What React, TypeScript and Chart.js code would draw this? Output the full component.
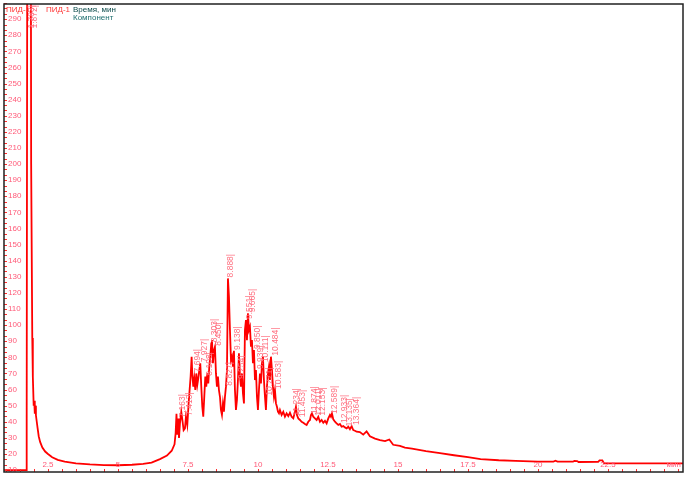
import React, { useEffect, useRef } from "react";
import { Chart, registerables } from "chart.js";

Chart.register(...registerables);

// retention time, min
const times = [
  0.93, 1.5, 1.72, 1.73, 1.75, 1.76, 1.89, 1.9, 1.93, 1.94, 1.96, 1.99, 2.01, 2.03, 2.05, 2.07, 2.1, 2.13, 2.17, 2.22,
  2.3, 2.4, 2.5, 2.65, 2.85, 3.1, 3.5, 4.0, 4.5, 5.0, 5.5, 5.9, 6.2, 6.5, 6.75, 6.92, 7.02, 7.06, 7.09, 7.12,
  7.15, 7.18, 7.214, 7.262, 7.309, 7.345, 7.393, 7.428, 7.476, 7.524, 7.559, 7.595, 7.631, 7.654, 7.69, 7.726, 7.762, 7.797, 7.833, 7.869,
  7.904, 7.94, 7.976, 8.012, 8.047, 8.083, 8.119, 8.154, 8.19, 8.226, 8.262, 8.297, 8.333, 8.357, 8.393, 8.428, 8.464, 8.5, 8.535, 8.571,
  8.607, 8.643, 8.678, 8.714, 8.75, 8.785, 8.821, 8.857, 8.893, 8.928, 8.964, 9.0, 9.036, 9.071, 9.107, 9.143, 9.178, 9.214, 9.25, 9.285,
  9.321, 9.357, 9.393, 9.428, 9.464, 9.5, 9.535, 9.571, 9.607, 9.643, 9.678, 9.714, 9.75, 9.785, 9.821, 9.857, 9.893, 9.928, 9.964, 10.0,
  10.036, 10.071, 10.107, 10.143, 10.178, 10.214, 10.25, 10.285, 10.321, 10.357, 10.393, 10.428, 10.464, 10.5, 10.535, 10.571, 10.607, 10.643, 10.678, 10.714,
  10.75, 10.785, 10.845, 10.905, 10.964, 11.024, 11.083, 11.143, 11.202, 11.262, 11.321, 11.357, 11.393, 11.44, 11.5, 11.559, 11.619, 11.678, 11.738, 11.797,
  11.857, 11.893, 11.928, 11.976, 12.035, 12.095, 12.154, 12.214, 12.274, 12.333, 12.393, 12.452, 12.512, 12.571, 12.607, 12.643, 12.69, 12.75, 12.809, 12.869,
  12.928, 12.988, 13.047, 13.107, 13.166, 13.226, 13.285, 13.345, 13.404, 13.464, 13.523, 13.64, 13.76, 13.88, 14.0, 14.18, 14.36, 14.54, 14.69, 14.83,
  15.07, 15.25, 15.5, 16.0, 16.5, 17.0, 17.5, 17.95, 18.6, 19.2, 20.0, 20.55, 20.62, 20.7, 21.25, 21.3, 21.4, 21.45, 22.15, 22.2,
  22.3, 22.36, 25.18,
];

// detector signal (ПИД-1)
const signal = [
  10, 10, 10, 40, 42, 330, 330, 200, 200, 92, 68, 50, 53, 45, 50, 44, 40, 36, 31, 27.5,
  24, 21.5, 20, 18, 16.3, 15.2, 14.2, 13.5, 13.1, 13, 13.3, 13.8, 14.6, 16.8, 19, 22, 26, 33, 45, 32,
  42, 30, 39, 46.2, 40, 34.8, 35.9, 43.1, 38, 51.4, 59.7, 68, 80.4, 70, 61.8, 66.9, 59.7, 70, 62.8, 66.9,
  72.1, 76.3, 61.8, 49.3, 43.1, 55.5, 68, 61.8, 70, 63.8, 74.2, 80.4, 88.7, 90.7, 76.3, 84.5, 86.6, 70, 61.8, 68,
  59.7, 55.5, 47.3, 44.2, 51.4, 46.2, 55.5, 61.8, 72.1, 129, 117.7, 97, 78.3, 80.4, 74.2, 84, 59.7, 47.3, 53.5, 65.9,
  82.5, 68, 61.8, 70, 57.6, 51.4, 97, 103.2, 90.7, 107.3, 97, 99, 86.6, 90.7, 76.3, 84.5, 65.9, 72.1, 55.5, 47.3,
  59.7, 70, 63.8, 76.3, 80.4, 65.9, 55.5, 47.3, 61.8, 70, 74.2, 65.9, 80.4, 72.1, 61.8, 55.5, 59.7, 51.4, 49.3, 46.2,
  45.2, 47.3, 44.2, 46.2, 43.1, 45.2, 43.5, 45.6, 43.1, 42.1, 46.2, 49.3, 44.2, 42.1, 41.1, 40, 39.4, 38.6, 38, 40,
  41.1, 44.2, 45.2, 43.1, 42.1, 41.1, 43.1, 40, 41.1, 39.4, 40.6, 39, 42.1, 44.2, 43.1, 45.2, 41.5, 40, 39, 38,
  38.6, 36.9, 37.3, 36.5, 35.9, 36.9, 35.3, 37.3, 34.8, 34.4, 33.8, 33.6, 32, 34, 31, 29.5, 28.6, 28, 29, 25.7,
  25, 24, 23.3, 21.8, 20.5, 19.2, 18, 16.8, 16.1, 15.7, 15.3, 15.2, 15.8, 15.2, 15.2, 15.7, 15.6, 15, 15.1, 16,
  16, 14.1, 14.1,
];

const peakLabels = [
  "1.783", "1.872", "7.163", "7.413", "7.694", "7.927", "8.108", "8.303", "8.450", "8.827", "8.888", "9.138", "9.254",
  "9.551", "9.665", "9.850", "9.939", "10.111", "10.271", "10.484", "10.583", "11.234", "11.453", "11.874", "12.011",
  "12.153", "12.589", "12.933", "13.135", "13.364",
];

const yLabels = [10, 20, 30, 40, 50, 60, 70, 80, 90, 100, 110, 120, 130, 140, 150, 160, 170, 180, 190, 200, 210, 220, 230, 240, 250, 260, 270, 280, 290];
const xLabels = [2.5, 5, 7.5, 10, 12.5, 15, 17.5, 20, 22.5];

const X_MIN = 0.93;
const X_MAX = 25.18;
const Y_MIN = 8.8;
const Y_MAX = 299.4;

const overlay = {
  id: "overlay",
  afterDatasetsDraw(chart: any) {
    const { ctx, chartArea: a, scales } = chart;
    const xs = scales.x;
    const ys = scales.y;
    ctx.save();
    // y ticks (three steps per labelled interval)
    ctx.strokeStyle = "#ff2a2a";
    ctx.lineWidth = 1;
    for (let k = 0; k <= 87; k++) {
      const v = 10 + (k * 10) / 3;
      const y = Math.round(ys.getPixelForValue(v)) + 0.5;
      ctx.beginPath();
      ctx.moveTo(a.left, y);
      ctx.lineTo(a.left + 3, y);
      ctx.stroke();
    }
    // x ticks
    for (let t = 1; t <= 25; t += 0.5) {
      const x = Math.round(xs.getPixelForValue(t)) + 0.5;
      ctx.beginPath();
      ctx.moveTo(x, a.bottom);
      ctx.lineTo(x, a.bottom - 3);
      ctx.stroke();
    }
    ctx.font = "8px 'Liberation Sans', Arial, sans-serif";
    ctx.fillStyle = "#ff5a78";
    ctx.textAlign = "left";
    ctx.textBaseline = "middle";
    for (const v of yLabels) {
      ctx.fillText(String(v), a.left + 4, ys.getPixelForValue(v));
    }
    ctx.textAlign = "center";
    ctx.textBaseline = "alphabetic";
    for (const t of xLabels) {
      ctx.fillText(String(t), xs.getPixelForValue(t), a.bottom - 5);
    }
    ctx.textAlign = "right";
    ctx.fillText("мин", a.right - 2, a.bottom - 5);

    // peak labels
    ctx.fillStyle = "#ff7080";
    ctx.font = "8.5px 'Liberation Sans', Arial, sans-serif";
    for (const lab of peakLabels) {
      const t = parseFloat(lab);
      let maxV = -Infinity;
      for (let i = 0; i < times.length; i++) {
        if (Math.abs(times[i] - t) <= 0.045 && signal[i] > maxV) maxV = signal[i];
      }
      const text = lab + "|";
      const w = ctx.measureText(text).width;
      const x = xs.getPixelForValue(t);
      let y = ys.getPixelForValue(maxV) - 1;
      if (y - w < a.top + 1) y = a.top + 1 + w;
      ctx.save();
      ctx.translate(x, y);
      ctx.rotate(-Math.PI / 2);
      ctx.textAlign = "left";
      ctx.textBaseline = "top";
      ctx.fillText(text, 0, 0);
      ctx.restore();
    }

    // header
    ctx.textAlign = "left";
    ctx.textBaseline = "alphabetic";
    ctx.font = "8px 'Liberation Sans', Arial, sans-serif";
    ctx.fillStyle = "#ff3030";
    ctx.fillText("ПИД-1,", a.left + 2, a.top + 8);
    ctx.fillText("ПИД-1", a.left + 42, a.top + 8);
    ctx.fillStyle = "#0a4a4a";
    ctx.fillText("Время, мин", a.left + 69, a.top + 8);
    ctx.fillStyle = "#207070";
    ctx.fillText("Компонент", a.left + 69, a.top + 16);

    // frame
    ctx.strokeStyle = "#202020";
    ctx.lineWidth = 1.5;
    ctx.strokeRect(a.left, a.top, a.right - a.left, a.bottom - a.top);
    ctx.restore();
  },
};

export default function App() {
  const ref = useRef<HTMLCanvasElement | null>(null);
  useEffect(() => {
    if (!ref.current) return;
    const chart = new Chart(ref.current, {
      type: "line",
      data: {
        datasets: [
          {
            data: times.map((t, i) => ({ x: t, y: signal[i] })),
            borderColor: "#ff0000",
            borderWidth: 1.8,
            pointRadius: 0,
            tension: 0,
            fill: false,
          },
        ],
      },
      options: {
        responsive: false,
        animation: false,
        events: [],
        layout: { padding: { left: 4, top: 4, right: 4, bottom: 5 } },
        plugins: { legend: { display: false }, tooltip: { enabled: false } },
        scales: {
          x: { type: "linear", min: X_MIN, max: X_MAX, display: false },
          y: { type: "linear", min: Y_MIN, max: Y_MAX, display: false },
        },
      },
      plugins: [overlay],
    });
    return () => chart.destroy();
  }, []);
  return (
    <div style={{ position: "fixed", left: 0, top: 0, width: 687, height: 477, background: "#fff" }}>
      <canvas ref={ref} width={687} height={477} style={{ display: "block" }} />
    </div>
  );
}
